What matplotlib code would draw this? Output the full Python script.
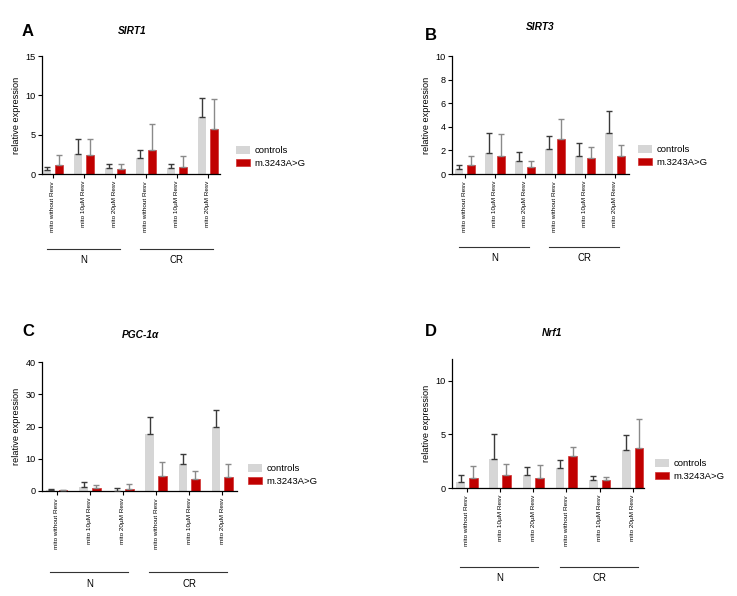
import matplotlib
matplotlib.use("Agg")
import matplotlib.pyplot as plt
import numpy as np

plt.rcParams['font.family'] = ['Liberation Sans', 'DejaVu Sans']

categories = ["mito without Resv", "mito 10µM Resv", "mito 20µM Resv",
              "mito without Resv", "mito 10µM Resv", "mito 20µM Resv"]
groups = ["N", "CR"]
series_names = ["controls", "m.3243A>G"]

# SIRT1
sirt1_ctrl = [0.5, 2.6, 0.8, 2.0, 0.8, 7.2]
sirt1_ctrl_err = [0.4, 1.8, 0.5, 1.0, 0.45, 2.5]
sirt1_mut = [1.2, 2.4, 0.6, 3.1, 0.95, 5.75]
sirt1_mut_err = [1.2, 2.1, 0.65, 3.2, 1.35, 3.75]

# SIRT3
sirt3_ctrl = [0.4, 1.78, 1.07, 2.15, 1.5, 3.45]
sirt3_ctrl_err = [0.33, 1.7, 0.8, 1.1, 1.15, 1.92]
sirt3_mut = [0.79, 1.5, 0.59, 2.94, 1.36, 1.5]
sirt3_mut_err = [0.76, 1.9, 0.51, 1.75, 0.96, 1.0]

# PGC-1a
pgc_ctrl = [0.3, 1.3, 0.1, 17.8, 8.35, 19.9]
pgc_ctrl_err = [0.2, 1.4, 0.7, 5.3, 3.25, 5.1]
pgc_mut = [0.3, 1.0, 0.5, 4.6, 3.7, 4.4]
pgc_mut_err = [0.1, 0.9, 1.8, 4.3, 2.5, 3.9]

# Nrf1
nrf1_ctrl = [0.56, 2.68, 1.18, 1.87, 0.78, 3.52]
nrf1_ctrl_err = [0.62, 2.3, 0.81, 0.75, 0.37, 1.4]
nrf1_mut = [0.93, 1.25, 0.93, 2.96, 0.78, 3.74]
nrf1_mut_err = [1.16, 1.02, 1.22, 0.9, 0.28, 2.68]

panels = [
    dict(letter="A", title="SIRT1", ctrl=sirt1_ctrl, ce=sirt1_ctrl_err, mut=sirt1_mut, me=sirt1_mut_err,
         px=(42, 220, 56, 174), ylim=15, yticks=[0, 5, 10, 15], xlim=(-0.35, 5.39),
         liney=-0.636, texty=-0.73, letterxy=(28, 32), titlexy=(132, 31), leg=(236, 146)),
    dict(letter="B", title="SIRT3", ctrl=sirt3_ctrl, ce=sirt3_ctrl_err, mut=sirt3_mut, me=sirt3_mut_err,
         px=(452, 629, 56, 174), ylim=10, yticks=[0, 2, 4, 6, 8, 10], xlim=(-0.43, 5.47),
         liney=-0.62, texty=-0.71, letterxy=(431, 35), titlexy=(540, 27), leg=(638, 145)),
    dict(letter="C", title="PGC-1α", ctrl=pgc_ctrl, ce=pgc_ctrl_err, mut=pgc_mut, me=pgc_mut_err,
         px=(42, 237, 362, 491), ylim=40, yticks=[0, 10, 20, 30, 40], xlim=(-0.45, 5.45),
         liney=-0.63, texty=-0.72, letterxy=(28, 332), titlexy=(140, 335), leg=(248, 464)),
    dict(letter="D", title="Nrf1", ctrl=nrf1_ctrl, ce=nrf1_ctrl_err, mut=nrf1_mut, me=nrf1_mut_err,
         px=(452, 644, 359, 488), ylim=12, yticks=[0, 5, 10], xlim=(-0.45, 5.34),
         liney=-0.61, texty=-0.70, letterxy=(431, 332), titlexy=(552, 333), leg=(655, 459)),
]

W, H = 737, 596
fig = plt.figure(figsize=(W / 100, H / 100), dpi=100)

gray = "#d6d6d6"
red = "#c00000"
x = np.arange(len(categories))
bw = 0.26
off = 0.19

for p in panels:
    l, r, t, b = p["px"]
    ax = fig.add_axes([l / W, 1 - b / H, (r - l) / W, (b - t) / H])
    ax.bar(x - off, p["ctrl"], bw, color=gray, label=series_names[0], zorder=2)
    ax.bar(x + off, p["mut"], bw, color=red, edgecolor="#d03030", linewidth=0.5,
           label=series_names[1], zorder=2)
    ax.errorbar(x - off, p["ctrl"], yerr=[np.zeros(6), p["ce"]], fmt="none",
                ecolor="#3a3a3a", elinewidth=1.0, capsize=2.2, capthick=1.0, zorder=3)
    ax.errorbar(x + off, p["mut"], yerr=[np.zeros(6), p["me"]], fmt="none",
                ecolor="#8a8a8a", elinewidth=1.0, capsize=2.2, capthick=1.0, zorder=3)
    ax.set_xlim(*p["xlim"])
    ax.set_ylim(0, p["ylim"])
    ax.set_yticks(p["yticks"])
    ax.set_xticks(x)
    ax.set_xticklabels(categories, rotation=90, fontsize=4.6)
    ax.tick_params(axis="y", labelsize=6.6, length=3, width=0.8, pad=1.5)
    ax.tick_params(axis="x", length=3, width=0.8, pad=2)
    for s in ["top", "right"]:
        ax.spines[s].set_visible(False)
    for s in ["left", "bottom"]:
        ax.spines[s].set_linewidth(0.9)
    ax.set_ylabel("relative expression", fontsize=6.6, labelpad=3)
    for gi, g in enumerate(groups):
        x0 = gi * 3 - 0.2
        x1 = gi * 3 + 2.15
        ax.plot([x0, x1], [p["liney"], p["liney"]], transform=ax.get_xaxis_transform(),
                color="#333333", lw=0.8, clip_on=False)
        ax.text(gi * 3 + 1, p["texty"], g, transform=ax.get_xaxis_transform(),
                ha="center", va="center", fontsize=6.9)
    lx, ly = p["leg"]
    ax.legend(loc="upper left", bbox_to_anchor=(lx / W, 1 - ly / H),
              bbox_transform=fig.transFigure, frameon=False, fontsize=6.8,
              handlelength=1.5, handleheight=0.85, handletextpad=0.5,
              labelspacing=0.4, borderaxespad=0, borderpad=0)
    fig.text(p["letterxy"][0] / W, 1 - p["letterxy"][1] / H, p["letter"],
             fontsize=12, fontweight="bold", ha="center", va="center")
    fig.text(p["titlexy"][0] / W, 1 - p["titlexy"][1] / H, p["title"],
             fontsize=7.3, fontweight="bold", fontstyle="italic", ha="center", va="center")

fig.savefig("out.png", dpi=100)
